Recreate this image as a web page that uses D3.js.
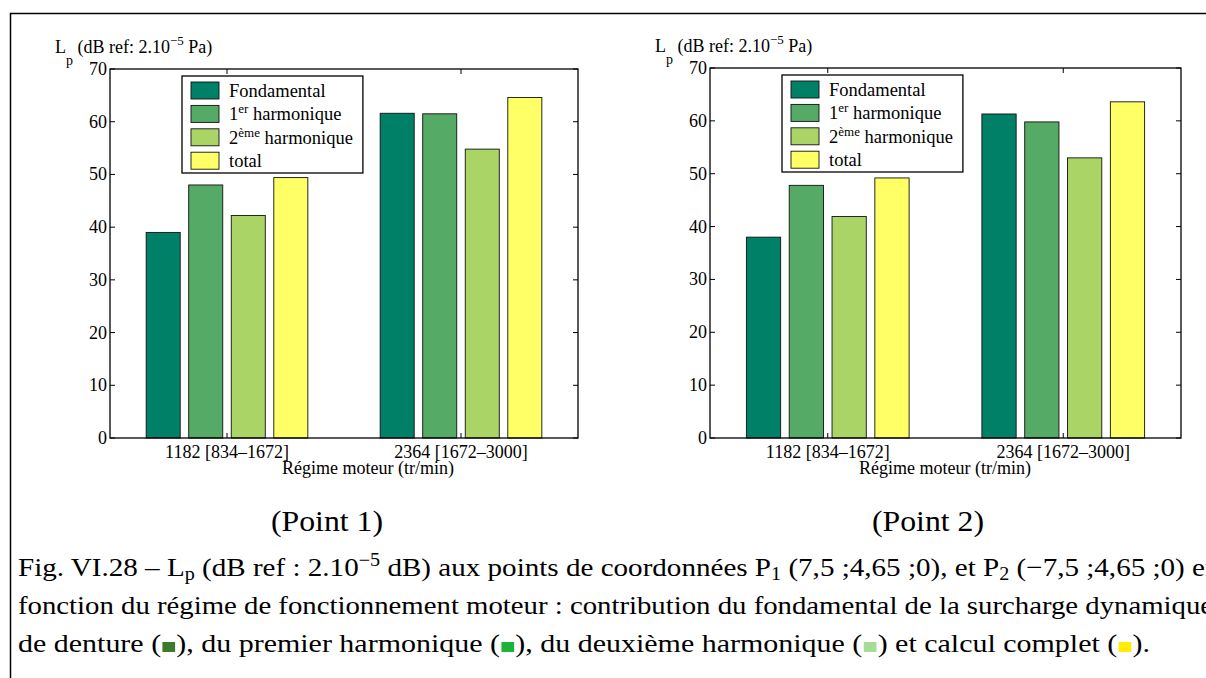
<!DOCTYPE html>
<html>
<head>
<meta charset="utf-8">
<script src="https://cdn.jsdelivr.net/npm/d3@7"></script>
<style>
  html, body { margin: 0; padding: 0; background: #fff; }
  svg { display: block; }
  text { font-family: "Liberation Serif", "Times New Roman", serif; fill: #000; }
</style>
</head>
<body>
<div id="fig"></div>
<script>
// ---- data ----
const categories = ["1182 [834\u20131672]", "2364 [1672\u20133000]"];
const seriesColors = ["#008066", "#55aa66", "#aad466", "#ffff66"];
// legend labels: [base, superscript, rest]
const seriesLabels = [
    ["Fondamental", "", ""],
    ["1", "er", " harmonique"],
    ["2", "\u00e8me", " harmonique"],
    ["total", "", ""]
];
// one row per series, one value per category
const point1Values = [
    [39.0, 61.6],
    [48.0, 61.5],
    [42.2, 54.8],
    [49.4, 64.6]
];
const point2Values = [
    [38.0, 61.3],
    [47.8, 59.8],
    [41.9, 53.0],
    [49.2, 63.6]
];
const yTicks = [0, 10, 20, 30, 40, 50, 60, 70];
const panelTitles = ["(Point 1)", "(Point 2)"];
const captionSwatches = ["#3d7a2d", "#1fb33b", "#a6dc95", "#ffee00"];

const W = 1206, H = 678;
const svg = d3.select("#fig").append("svg")
    .attr("width", W).attr("height", H)
    .attr("viewBox", `0 0 ${W} ${H}`);

svg.append("rect").attr("width", W).attr("height", H).attr("fill", "#fff");

// page frame (top and left rule)
svg.append("path")
    .attr("d", `M10.5,${H} V13.5 H${W}`)
    .attr("fill", "none").attr("stroke", "#000").attr("stroke-width", 1.5);

function drawPanel(cfg) {
    const g = svg.append("g");
    const x = d3.scaleLinear().domain([0.5, 2.5]).range([cfg.left, cfg.right]);
    const y = d3.scaleLinear().domain([0, 70]).range([cfg.bottom, cfg.top]);

    // MATLAB grouped bar geometry: 4 series, group width 4/(4+1.5)
    const nS = cfg.values.length;
    const groupW = Math.min(0.8, nS / (nS + 1.5));
    const step = groupW / nS;
    const barW = step * 0.8;

    cfg.values.forEach((vals, si) => {
        g.selectAll(null)
            .data(vals)
            .enter().append("rect")
            .attr("x", (d, ci) => x(ci + 1 + (si - (nS - 1) / 2) * step - barW / 2))
            .attr("width", x(barW) - x(0))
            .attr("y", d => y(d))
            .attr("height", d => y(0) - y(d))
            .attr("fill", seriesColors[si])
            .attr("stroke", "#111")
            .attr("stroke-width", 0.9);
    });

    // box
    g.append("rect")
        .attr("x", cfg.left).attr("y", cfg.top)
        .attr("width", cfg.right - cfg.left).attr("height", cfg.bottom - cfg.top)
        .attr("fill", "none").attr("stroke", "#000").attr("stroke-width", 1.3);

    // y ticks inside on both sides
    const tl = 5;
    yTicks.forEach(t => {
        g.append("line").attr("x1", cfg.left).attr("x2", cfg.left + tl)
            .attr("y1", y(t)).attr("y2", y(t)).attr("stroke", "#000");
        g.append("line").attr("x1", cfg.right).attr("x2", cfg.right - tl)
            .attr("y1", y(t)).attr("y2", y(t)).attr("stroke", "#000");
        g.append("text")
            .attr("x", cfg.left - 3).attr("y", y(t) + 6)
            .attr("text-anchor", "end").attr("font-size", 18)
            .text(t);
    });

    // x ticks (top and bottom) + labels
    categories.forEach((c, i) => {
        const cx = x(i + 1);
        g.append("line").attr("x1", cx).attr("x2", cx)
            .attr("y1", cfg.bottom).attr("y2", cfg.bottom - tl).attr("stroke", "#000");
        g.append("line").attr("x1", cx).attr("x2", cx)
            .attr("y1", cfg.top).attr("y2", cfg.top + tl).attr("stroke", "#000");
        g.append("text")
            .attr("x", cx).attr("y", cfg.bottom + 20)
            .attr("text-anchor", "middle").attr("font-size", 18)
            .text(c);
    });

    g.append("text")
        .attr("x", cfg.xLabelCenter).attr("y", cfg.bottom + 36)
        .attr("text-anchor", "middle").attr("font-size", 18)
        .text("R\u00e9gime moteur (tr/min)");

    // y label: L_p (dB ref: 2.10^-5 Pa)
    const yl = g.append("text")
        .attr("x", cfg.left - 55).attr("y", cfg.top - 16)
        .attr("font-size", 18);
    yl.append("tspan").text("L");
    yl.append("tspan").attr("dy", 12).attr("font-size", 14).text("p");
    yl.append("tspan").attr("dy", -12).text(" (dB ref: 2.10");
    yl.append("tspan").attr("dy", -8).attr("font-size", 13).text("\u22125");
    yl.append("tspan").attr("dy", 8).text(" Pa)");

    // legend
    const lx = cfg.left + 72, ly = cfg.top + 7;
    const leg = g.append("g");
    const legBox = leg.append("rect")
        .attr("x", lx).attr("y", ly).attr("height", 97)
        .attr("fill", "#fff").attr("stroke", "#000").attr("stroke-width", 1.3);
    let maxRight = 0;
    seriesLabels.forEach((lab, i) => {
        const ry = ly + 6 + i * 23.4;
        leg.append("rect")
            .attr("x", lx + 9).attr("y", ry).attr("width", 28).attr("height", 17)
            .attr("fill", seriesColors[i]).attr("stroke", "#111").attr("stroke-width", 0.9);
        const t = leg.append("text")
            .attr("x", lx + 47).attr("y", ry + 15).attr("font-size", 18.5);
        t.append("tspan").text(lab[0]);
        if (lab[1]) t.append("tspan").attr("dy", -7).attr("font-size", 13).text(lab[1]);
        if (lab[2]) t.append("tspan").attr("dy", 7).text(lab[2]);
        const bb = t.node().getBBox();
        maxRight = Math.max(maxRight, bb.x + bb.width);
    });
    legBox.attr("width", maxRight - lx + 10);

    // panel caption
    svg.append("text")
        .attr("x", cfg.titleCenter).attr("y", 531)
        .attr("text-anchor", "middle").attr("font-size", 29)
        .attr("textLength", 112).attr("lengthAdjust", "spacingAndGlyphs")
        .text(cfg.title);
}

drawPanel({ left: 110, right: 578, top: 69, bottom: 438, values: point1Values,
            xLabelCenter: 368, titleCenter: 327, title: panelTitles[0] });
drawPanel({ left: 710, right: 1181, top: 68, bottom: 438, values: point2Values,
            xLabelCenter: 945, titleCenter: 928, title: panelTitles[1] });

// ---- figure caption ----
function fitGroup(g, x0, y0, target) {
    const w = g.node().getBBox().width;
    g.attr("transform", `translate(${x0},${y0}) scale(${target / w},1)`);
}

const capFs = 26;
const subFs = 18;
const l1 = svg.append("g");
const t1 = l1.append("text").attr("x", 0).attr("y", 0).attr("font-size", capFs);
t1.append("tspan").text("Fig. VI.28 \u2013 L");
t1.append("tspan").attr("dy", 4).attr("font-size", subFs).text("p");
t1.append("tspan").attr("dy", -4).text(" (dB ref : 2.10");
t1.append("tspan").attr("dy", -10).attr("font-size", subFs).text("\u22125");
t1.append("tspan").attr("dy", 10).text(" dB) aux points de coordonn\u00e9es P");
t1.append("tspan").attr("dy", 4).attr("font-size", subFs).text("1");
t1.append("tspan").attr("dy", -4).text(" (7,5 ;4,65 ;0), et P");
t1.append("tspan").attr("dy", 4).attr("font-size", subFs).text("2");
t1.append("tspan").attr("dy", -4).text(" (\u22127,5 ;4,65 ;0) en");
fitGroup(l1, 18, 576, 1202);

const l2 = svg.append("g");
l2.append("text").attr("font-size", capFs)
    .text("fonction du r\u00e9gime de fonctionnement moteur : contribution du fondamental de la surcharge dynamique");
fitGroup(l2, 18, 614, 1196);

const l3 = svg.append("g");
const l3parts = ["de denture (", "), du premier harmonique (", "), du deuxi\u00e8me harmonique (",
                 ") et calcul complet (", ")."];
let cx = 0;
l3parts.forEach((s, i) => {
    const t = l3.append("text").attr("x", cx).attr("y", 0).attr("font-size", capFs).text(s);
    cx += t.node().getComputedTextLength();
    if (i < captionSwatches.length) {
        l3.append("rect").attr("x", cx + 1).attr("y", -10).attr("width", 11).attr("height", 10)
            .attr("fill", captionSwatches[i]);
        cx += 13;
    }
});
fitGroup(l3, 18, 652, 1132);
</script>
</body>
</html>
